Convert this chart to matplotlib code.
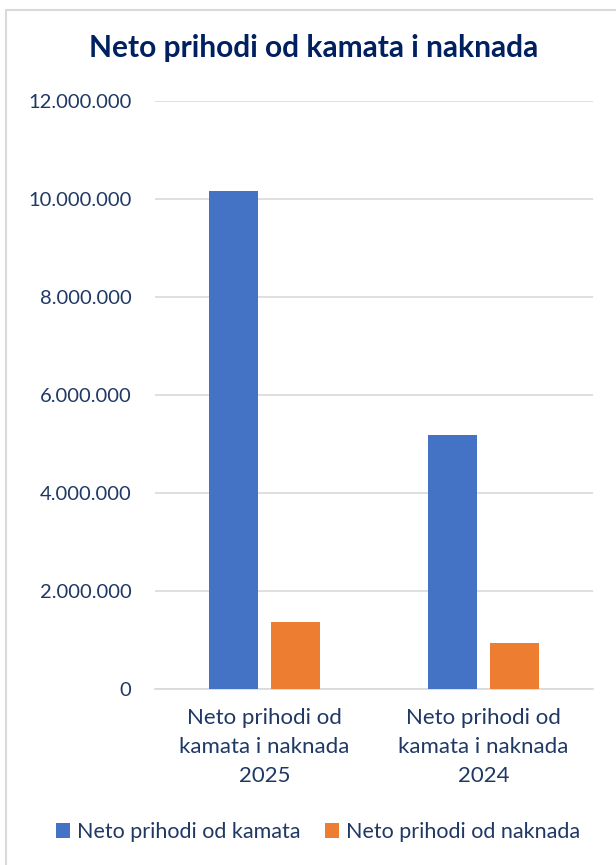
import matplotlib
matplotlib.use("Agg")
import matplotlib.pyplot as plt
from matplotlib.patches import Rectangle
from matplotlib.ticker import FuncFormatter

categories = ["Neto prihodi od\nkamata i naknada\n2025", "Neto prihodi od\nkamata i naknada\n2024"]
series_names = ["Neto prihodi od kamata", "Neto prihodi od naknada"]
kamata = [10160000, 5180000]
naknada = [1360000, 930000]
yticks = [0, 2000000, 4000000, 6000000, 8000000, 10000000, 12000000]

plt.rcParams['font.family'] = ['Lato', 'DejaVu Sans']
navy = '#1F3864'
title_col = '#002060'
blue = '#4472C4'
orange = '#ED7D31'

fig = plt.figure(figsize=(6.16, 8.65), dpi=100)
# outer border
fig.patches.append(Rectangle((6/616, -0.01), 1.02, 1 - 10/865 + 0.01, transform=fig.transFigure,
                             fill=False, edgecolor='#D9D9D9', linewidth=1.5))

ax = fig.add_axes([155/616, 1 - 689/865, 438/616, (689 - 101)/865])
x = range(len(categories))
w = 0.224
off = 0.1416
ax.bar([i - off for i in x], kamata, width=w, color=blue, zorder=3, label=series_names[0])
ax.bar([i + off for i in x], naknada, width=w, color=orange, zorder=3, label=series_names[1])

ax.set_xlim(-0.5, 1.5)
ax.set_ylim(0, 12000000)
ax.set_yticks(yticks)
ax.yaxis.set_major_formatter(FuncFormatter(lambda v, p: f"{int(v):,}".replace(",", ".")))
ax.set_xticks(list(x))
ax.set_xticklabels(categories, linespacing=1.55)
ax.grid(axis='y', color='#D9D9D9', linewidth=1.2, zorder=0)
for s in ['top', 'right', 'left']:
    ax.spines[s].set_visible(False)
ax.spines['bottom'].set_color('#D9D9D9')
ax.spines['bottom'].set_linewidth(1.2)
ax.tick_params(axis='both', length=0, colors=navy)
ax.tick_params(axis='y', pad=17, labelsize=14.5)
ax.tick_params(axis='x', pad=14, labelsize=16)

fig.text(314/616, 1 - 48/865, "Neto prihodi od kamata i naknada", ha='center', va='center',
         fontsize=21.5, fontweight='bold', color=title_col)

handles, labels = ax.get_legend_handles_labels()
leg = fig.legend(handles, labels, loc='center', bbox_to_anchor=(318/616, 1 - 832/865), ncol=2,
                 frameon=False, fontsize=15.5, handlelength=0.65, handleheight=0.65,
                 handletextpad=0.35, columnspacing=1.1)
for t in leg.get_texts():
    t.set_color(navy)

fig.savefig("out.png", dpi=100)
